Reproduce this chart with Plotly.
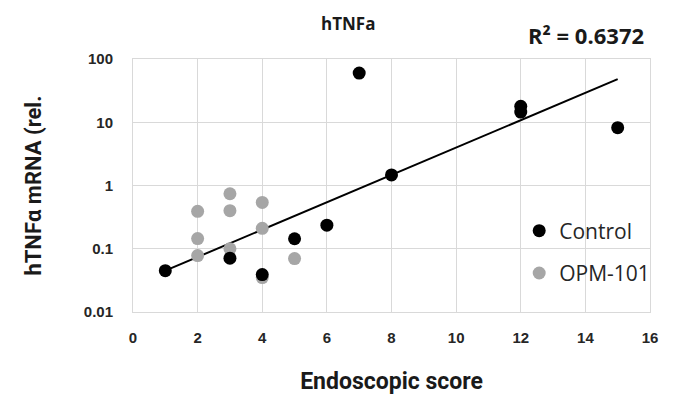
import plotly.graph_objects as go

# Data
control_x = [1, 3, 4, 5, 6, 7, 8, 12, 12, 15]
control_y = [0.045, 0.071, 0.039, 0.144, 0.236, 60, 1.47, 17.9, 14.5, 8.2]
opm_x = [2, 2, 2, 3, 3, 3, 4, 4, 4, 5]
opm_y = [0.39, 0.145, 0.078, 0.74, 0.40, 0.10, 0.54, 0.21, 0.035, 0.07]

# Exponential trendline endpoints (as drawn in the reference)
trend_x = [1, 15]
trend_y = [0.045, 48]

x_ticks = [0, 2, 4, 6, 8, 10, 12, 14, 16]
y_ticks = [0.01, 0.1, 1, 10, 100]
y_tick_text = ["0.01", "0.1", "1", "10", "100"]

title_text = "hTNFa"
r2_text = "R² = 0.6372"
x_title = "Endoscopic score"
y_title = "hTNFα mRNA (rel."

fig = go.Figure()
fig.add_trace(go.Scatter(x=trend_x, y=trend_y, mode="lines",
                         line=dict(color="black", width=2), showlegend=False, hoverinfo="skip"))
fig.add_trace(go.Scatter(x=opm_x, y=opm_y, mode="markers", name="OPM-101",
                         marker=dict(color="#a6a6a6", size=13), legendgroup="b", legendrank=2))
fig.add_trace(go.Scatter(x=control_x, y=control_y, mode="markers", name="Control",
                         marker=dict(color="black", size=13), legendgroup="a", legendrank=1))

grid = "#d9d9d9"
tickfont = dict(family="Liberation Sans", size=15, color="#262626", weight="bold")
fig.update_layout(
    width=676, height=397,
    margin=dict(l=125, r=34, t=51, b=93),
    paper_bgcolor="white", plot_bgcolor="white",
    showlegend=True,
    legend=dict(x=0.747, y=0.401, xanchor="left", yanchor="top",
                bgcolor="rgba(0,0,0,0)", font=dict(family="Open Sans", size=21, color="#262626"),
                traceorder="grouped", tracegroupgap=12, itemwidth=30),
    xaxis=dict(range=[0, 16], tickvals=x_ticks, showgrid=True, gridcolor=grid, gridwidth=1,
               zeroline=False, showline=True, linecolor=grid, mirror=True,
               tickfont=tickfont, ticks="", ticklabelstandoff=12,
               title=dict(text=x_title, font=dict(family="Roboto", size=23, color="#1a1a1a", weight="bold"),
                          standoff=27)),
    yaxis=dict(type="log", range=[-2, 2], tickvals=y_ticks, ticktext=y_tick_text,
               showgrid=True, gridcolor=grid, gridwidth=1, zeroline=False,
               showline=True, linecolor=grid, mirror=True, ticks="", ticklabelstandoff=16,
               tickfont=tickfont,
               title=dict(text=y_title, font=dict(family="Roboto", size=22, color="#1a1a1a", weight="bold"),
                          standoff=36)),
)
fig.add_annotation(text=title_text, xref="paper", yref="paper", x=0.416, y=1.0, yshift=36,
                   xanchor="center", yanchor="middle", showarrow=False,
                   font=dict(family="Open Sans", size=17, color="#1a1a1a", weight="bold"))
fig.add_annotation(text=r2_text, xref="paper", yref="paper", x=0.992, y=1.0, yshift=24,
                   xanchor="right", yanchor="middle", showarrow=False,
                   font=dict(family="Open Sans", size=22, color="#1a1a1a", weight="bold"))
fig.write_html("out.html")
